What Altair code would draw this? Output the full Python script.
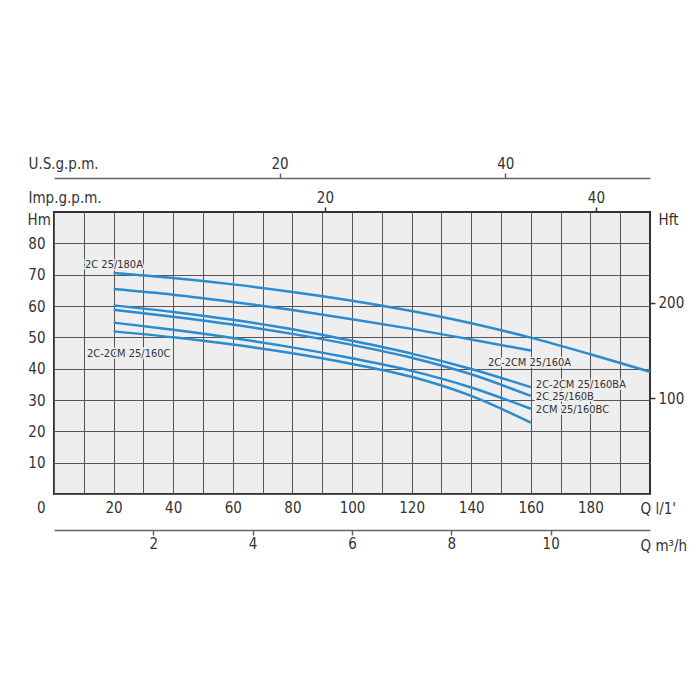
import altair as alt
import pandas as pd

# ---- data ----
Q_LPM = [20, 40, 60, 80, 100, 120, 140, 160]
Q_LPM_180 = [20, 40, 60, 80, 100, 120, 140, 160, 180, 200]
H_180A = [70.5, 68.9, 66.9, 64.5, 61.7, 58.4, 54.5, 49.9, 44.6, 39.0]
H_160A = [65.4, 63.6, 61.3, 58.7, 55.8, 52.7, 49.3, 45.8]
H_160BA = [60.2, 58.1, 55.6, 52.6, 48.9, 44.8, 39.9, 34.1]
H_160B = [58.8, 56.6, 54.1, 51.1, 47.6, 43.5, 38.2, 31.3]
H_160BC = [54.7, 52.4, 49.8, 46.8, 43.3, 39.3, 34.0, 27.2]
H_160C = [51.9, 50.0, 47.7, 44.9, 41.5, 37.4, 31.3, 22.8]

LABEL_TEXT = ["2C 25/180A", "2C-2CM 25/160C", "2C-2CM 25/160A",
              "2C-2CM 25/160BA", "2C 25/160B", "2CM 25/160BC"]
LABEL_Q = [10.4, 11.1, 145.6, 161.7, 161.7, 161.7]
LABEL_H = [73.1, 44.7, 41.9, 34.9, 30.9, 26.8]

LPM_GRID = list(range(0, 200, 10))
HM_GRID = list(range(0, 90, 10))
US_TICKS = [20, 40]
IMP_TICKS = [20, 40]
M3H_TICKS = [2, 4, 6, 8, 10]
FT_TICKS = [100, 200]

Q_MAX = 200
H_MAX = 90
L_PER_USGAL = 3.78541
L_PER_IMPGAL = 4.54609
FT_PER_M = 3.28084

# ---- tables ----
rows = []
for name, qs, hs in [("180A", Q_LPM_180, H_180A), ("160A", Q_LPM, H_160A),
                     ("160BA", Q_LPM, H_160BA), ("160B", Q_LPM, H_160B),
                     ("160BC", Q_LPM, H_160BC), ("160C", Q_LPM, H_160C)]:
    for q, h in zip(qs, hs):
        rows.append({"series": name, "Q": q, "H": h})
curves = pd.DataFrame(rows)
labels = pd.DataFrame({"Q": LABEL_Q, "H": LABEL_H, "text": LABEL_TEXT})

FONT = "Liberation Sans Narrow, DejaVu Sans Condensed, sans-serif"
LFONT = "DejaVu Sans Condensed, sans-serif"
TXT = "#333333"
BLUE = "#2a8bd0"
BG = "#eeeeee"

TITLE_STYLE = dict(titleAngle=0, titleBaseline="middle", titleAlign="left",
                   titleFont=FONT, titleFontSize=15, titleFontWeight="normal",
                   titleColor=TXT, labelFont=FONT, labelFontSize=15, labelColor=TXT)

x_axis = alt.Axis(
    values=LPM_GRID, grid=True, domain=False, ticks=False,
    labelExpr="datum.value % 20 == 0 ? datum.label : ''",
    labelAlign={"expr": "datum.value == 0 ? 'right' : 'center'"},
    labelOffset={"expr": "datum.value == 0 ? -9 : 0"},
    labelPadding=6, orient="bottom",
    gridColor="#555", gridWidth=1, gridOpacity=1,
    title="Q  l/1'", titleX=586, titleY=14, **TITLE_STYLE
)
y_axis = alt.Axis(
    values=HM_GRID, grid=True, domain=False, ticks=False,
    labelExpr="datum.value == 0 ? '' : datum.label",
    labelPadding=9, orient="left",
    gridColor="#555", gridWidth=1, gridOpacity=1,
    title="Hm", titleX=-27, titleY=7, **TITLE_STYLE
)
X = alt.X("Q:Q", scale=alt.Scale(domain=[0, Q_MAX], nice=False), axis=x_axis)
Y = alt.Y("H:Q", scale=alt.Scale(domain=[0, H_MAX], nice=False), axis=y_axis)

lines = alt.Chart(curves).mark_line(
    color=BLUE, strokeWidth=2.5, interpolate="monotone"
).encode(x=X, y=Y, detail="series:N")

halo = alt.Chart(labels).mark_text(
    align="left", baseline="middle", font=LFONT, fontSize=11,
    stroke=BG, strokeWidth=3, color=BG
).encode(x=X, y=Y, text="text:N")

text = alt.Chart(labels).mark_text(
    align="left", baseline="middle", font=LFONT, fontSize=11, color=TXT
).encode(x=X, y=Y, text="text:N")

main = alt.layer(lines, halo, text)

us = alt.Chart(pd.DataFrame({"v": US_TICKS})).mark_point(opacity=0).encode(
    x=alt.X("v:Q", scale=alt.Scale(domain=[0, Q_MAX / L_PER_USGAL], nice=False),
            axis=alt.Axis(orient="top", offset=34, values=US_TICKS, grid=False,
                          domain=True, domainColor="#666", domainWidth=1.5,
                          ticks=True, tickSize=5, tickColor="#666", tickWidth=1.5,
                          labelPadding=2,
                          title="U.S.g.p.m.", titleX=-26, titleY=-15, **TITLE_STYLE))
)
imp = alt.Chart(pd.DataFrame({"v": IMP_TICKS})).mark_point(opacity=0).encode(
    x=alt.X("v:Q", scale=alt.Scale(domain=[0, Q_MAX / L_PER_IMPGAL], nice=False),
            axis=alt.Axis(orient="top", offset=0, values=IMP_TICKS, grid=False,
                          domain=False, ticks=True, tickSize=5, tickColor="#333",
                          tickWidth=1.5, labelPadding=2,
                          title="Imp.g.p.m.", titleX=-26, titleY=-15, **TITLE_STYLE))
)
m3 = alt.Chart(pd.DataFrame({"v": M3H_TICKS})).mark_point(opacity=0).encode(
    x=alt.X("v:Q", scale=alt.Scale(domain=[0, Q_MAX * 60 / 1000], nice=False),
            axis=alt.Axis(orient="bottom", offset=36, values=M3H_TICKS, grid=False,
                          domain=True, domainColor="#666", domainWidth=1.5,
                          ticks=True, tickSize=5, tickColor="#666", tickWidth=1.5,
                          labelPadding=1,
                          title="Q  m³/h", titleX=586, titleY=15, **TITLE_STYLE))
)
ft = alt.Chart(pd.DataFrame({"v": FT_TICKS})).mark_point(opacity=0).encode(
    y=alt.Y("v:Q", scale=alt.Scale(domain=[0, H_MAX * FT_PER_M], nice=False),
            axis=alt.Axis(orient="right", values=FT_TICKS, grid=False,
                          domain=False, ticks=True, tickSize=5, tickColor="#333",
                          tickWidth=1.5, labelPadding=3,
                          title="Hft", titleX=8, titleY=7, **TITLE_STYLE))
)

chart = alt.layer(main, us, imp, m3, ft).resolve_scale(
    x="independent", y="independent"
).properties(
    width=596, height=282,
    padding={"left": 46, "top": 204, "right": 40, "bottom": 80},
    autosize=alt.AutoSizeParams(type="none"),
    background="white",
).configure_view(
    fill=BG, stroke="#333", strokeWidth=2
)

chart.save("out.html", embed_options={"renderer": "svg", "actions": False})
